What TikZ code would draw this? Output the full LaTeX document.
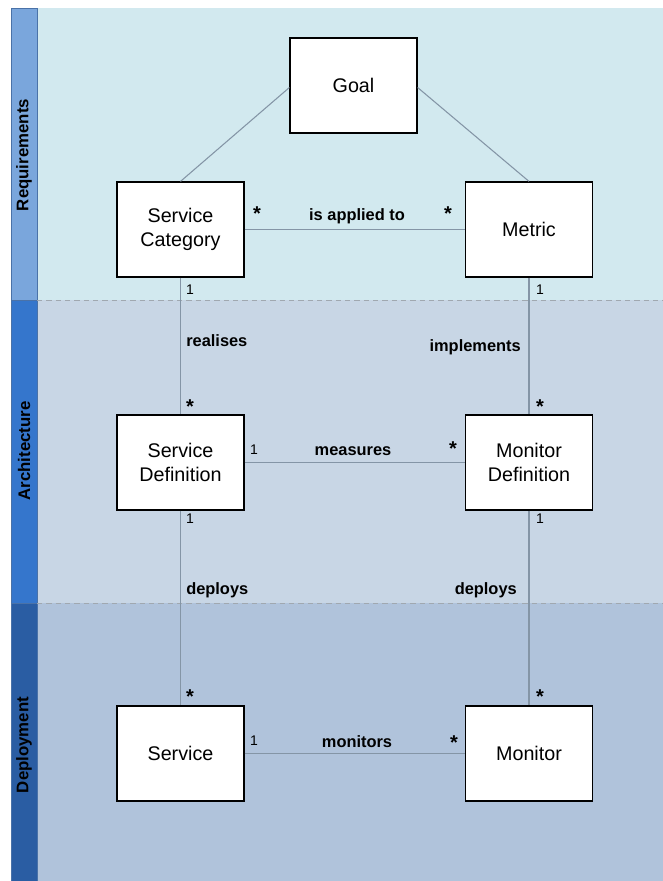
\documentclass[tikz,border=0pt]{standalone}
\usepackage{fontspec}
\setmainfont{Liberation Sans}
\definecolor{reqbg}{HTML}{D2E9EF}
\definecolor{archbg}{HTML}{C8D6E5}
\definecolor{depbg}{HTML}{B0C3DB}
\definecolor{reqside}{HTML}{7AA6DC}
\definecolor{archside}{HTML}{3576CC}
\definecolor{depside}{HTML}{2A5DA3}
\definecolor{sideline}{HTML}{4A72A8}
\definecolor{conn}{HTML}{8495A6}
\definecolor{sep}{HTML}{A0A8B0}
\tikzset{
  cls/.style={draw=black, line width=0.9pt, fill=white, minimum width=127*0.75pt, minimum height=95*0.75pt, align=center, font=\fontsize{14.8}{18}\selectfont, inner sep=0pt},
  rel/.style={draw=conn, line width=0.8pt},
  lbl/.style={font=\bfseries\fontsize{12.3}{14}\selectfont, inner sep=0pt},
  one/.style={font=\fontsize{10.5}{12}\selectfont, inner sep=0pt},
  many/.style={font=\bfseries\fontsize{15}{16}\selectfont, inner sep=0pt},
  side/.style={font=\bfseries\fontsize{12.6}{14}\selectfont, rotate=90, inner sep=0pt}
}
\begin{document}
\begin{tikzpicture}[x=0.75pt, y=-0.75pt]
\useasboundingbox (0,0) rectangle (663,881);
% bands
\fill[reqbg] (37,8) rectangle (663,300);
\fill[archbg] (37,300) rectangle (663,603);
\fill[depbg] (37,603) rectangle (663,881);
\fill[reqside] (11,8) rectangle (37,300);
\fill[archside] (11,300) rectangle (37,603);
\fill[depside] (11,603) rectangle (37,881);
\draw[sideline, line width=0.6pt] (11,881) -- (11,8) -- (37,8) -- (37,881);
\draw[sideline, line width=0.6pt] (11,300) -- (37,300) (11,603) -- (37,603);
\draw[sep, line width=0.6pt, dash pattern=on 4pt off 3pt] (37,300) -- (663,300);
\draw[sep, line width=0.6pt, dash pattern=on 4pt off 3pt] (37,603) -- (663,603);
\node[side] (lreq) at (24,155) {Requirements};
\node[side] (larch) at (24,451) {Architecture};
\node[side] (ldep) at (24,745) {Deployment};
% classes
\node[cls] (goal) at (353.5,85.5) {Goal};
\node[cls] (sc) at (180.5,229.5) {Service\\Category};
\node[cls] (met) at (529,229.5) {Metric};
\node[cls] (sd) at (180.5,462.5) {Service\\Definition};
\node[cls] (md) at (529,462.5) {Monitor\\Definition};
\node[cls] (srv) at (180.5,753.5) {Service};
\node[cls] (mon) at (529,753.5) {Monitor};
% relations
\draw[rel] (goal.west) ++(0,2) -- (sc.north);
\draw[rel] (goal.east) ++(0,2) -- (met.north);
\draw[rel] (sc.east) -- (met.west);
\draw[rel] (sc.south) -- (sd.north);
\draw[rel] (met.south) -- (md.north);
\draw[rel] (sd.east) -- (md.west);
\draw[rel] (sd.south) -- (srv.north);
\draw[rel] (md.south) -- (mon.north);
\draw[rel] (srv.east) -- (mon.west);
% labels
\node[lbl] (t1) at (357,216) {is applied to};
\node[many] (s1) at (257,214) {*};
\node[many] (s2) at (448,214) {*};
\node[one] (o1) at (190,290) {1};
\node[lbl, anchor=west] (t2) at (186,341) {realises};
\node[many] (s3) at (190,407) {*};
\node[one] (o2) at (540,290) {1};
\node[lbl, anchor=east] (t3) at (521,347) {implements};
\node[many] (s4) at (540,407) {*};
\node[one] (o3) at (254,450) {1};
\node[lbl] (t4) at (353,451) {measures};
\node[many] (s5) at (453,449) {*};
\node[one] (o4) at (190,519) {1};
\node[lbl, anchor=west] (t5) at (186,590) {deploys};
\node[many] (s6) at (190,697) {*};
\node[one] (o5) at (540,519) {1};
\node[lbl, anchor=east] (t6) at (517,590) {deploys};
\node[many] (s7) at (540,697) {*};
\node[one] (o6) at (254,741) {1};
\node[lbl] (t7) at (357,742) {monitors};
\node[many] (s8) at (454,743) {*};
\end{tikzpicture}
\end{document}
